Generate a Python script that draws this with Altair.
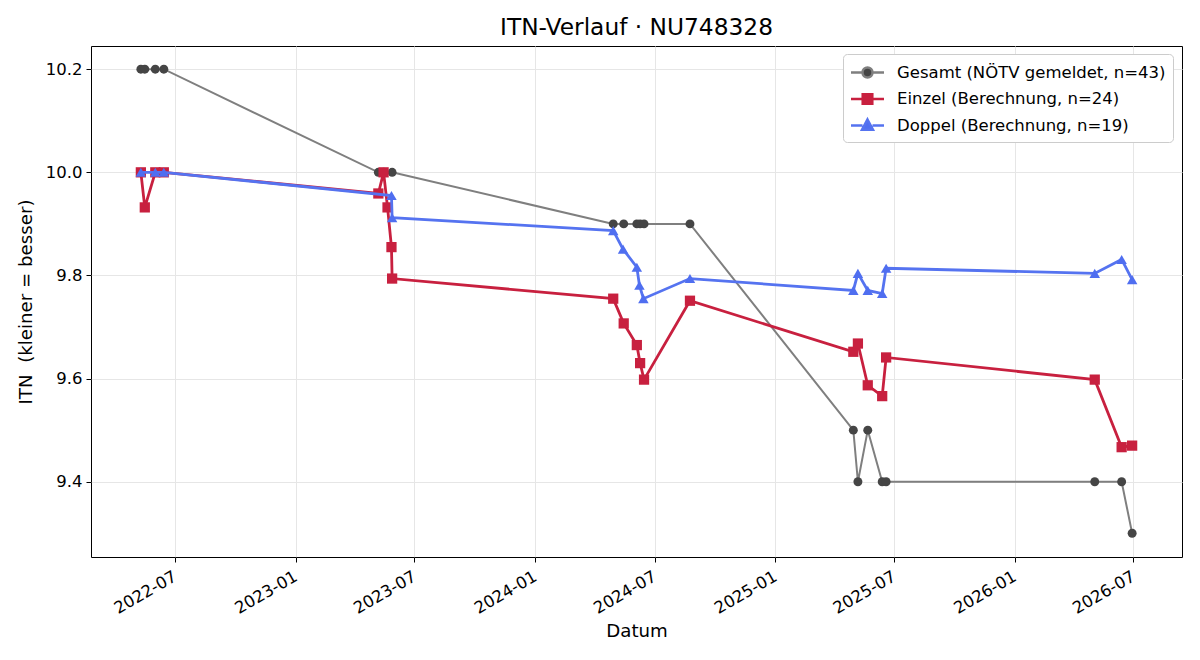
import altair as alt
import pandas as pd

series_names = ["Gesamt (NÖTV gemeldet, n=43)", "Einzel (Berechnung, n=24)", "Doppel (Berechnung, n=19)"]
line_colors = ["#7f7f7f", "#c8203f", "#5573f0"]
marker_colors = ["#454545", "#c8203f", "#4f6ef0"]
marker_shapes = ["circle", "square", "triangle-up"]
line_widths = [2.0, 2.8, 2.8]
marker_sizes = [80, 105, 110]

gesamt_dates = ["2022-05-10", "2022-05-16", "2022-06-01", "2022-06-14",
                "2023-05-07", "2023-05-15", "2023-05-28",
                "2024-04-29", "2024-05-15", "2024-06-04", "2024-06-09", "2024-06-15", "2024-08-24",
                "2025-04-30", "2025-05-07", "2025-05-22", "2025-06-13", "2025-06-19",
                "2026-05-03", "2026-06-13", "2026-06-29"]
gesamt_itn = [10.2, 10.2, 10.2, 10.2,
              10.0, 10.0, 10.0,
              9.9, 9.9, 9.9, 9.9, 9.9, 9.9,
              9.5, 9.4, 9.5, 9.4, 9.4,
              9.4, 9.4, 9.3]

einzel_dates = ["2022-05-10", "2022-05-16", "2022-06-01", "2022-06-14",
                "2023-05-07", "2023-05-15", "2023-05-21", "2023-05-27", "2023-05-28",
                "2024-04-29", "2024-05-15", "2024-06-04", "2024-06-09", "2024-06-15", "2024-08-24",
                "2025-04-30", "2025-05-07", "2025-05-22", "2025-06-13", "2025-06-19",
                "2026-05-03", "2026-06-13", "2026-06-29"]
einzel_itn = [10.0, 9.932, 10.0, 10.0,
              9.959, 10.0, 9.932, 9.855, 9.794,
              9.755, 9.707, 9.665, 9.630, 9.598, 9.751,
              9.652, 9.668, 9.587, 9.566, 9.641,
              9.598, 9.467, 9.470]

doppel_dates = ["2022-05-10", "2022-06-01", "2022-06-14",
                "2023-05-27", "2023-05-28",
                "2024-04-29", "2024-05-14", "2024-06-04", "2024-06-08", "2024-06-14", "2024-08-24",
                "2025-04-30", "2025-05-07", "2025-05-22", "2025-06-13", "2025-06-19",
                "2026-05-03", "2026-06-13", "2026-06-29"]
doppel_itn = [10.0, 10.0, 10.0,
              9.955, 9.912,
              9.887, 9.851, 9.816, 9.781, 9.755, 9.794,
              9.771, 9.804, 9.771, 9.765, 9.814,
              9.804, 9.831, 9.792]

x_tick_dates = [(2022, 7), (2023, 1), (2023, 7), (2024, 1), (2024, 7),
                (2025, 1), (2025, 7), (2026, 1), (2026, 7)]
y_ticks = [9.4, 9.6, 9.8, 10.0, 10.2]
x_domain = [(2022, 2, 23), (2026, 9, 13)]
y_domain = [9.254, 10.245]

all_dates = [gesamt_dates, einzel_dates, doppel_dates]
all_itn = [gesamt_itn, einzel_itn, doppel_itn]
rows = []
for name, ds, vs in zip(series_names, all_dates, all_itn):
    for d, v in zip(ds, vs):
        rows.append({"date": d, "itn": v, "series": name})
df = pd.DataFrame(rows)

FONT = "DejaVu Sans"

# legend symbol paths (line with marker), unit = sqrt(size)/2 px
legend_paths = [
    "M-1.65,0H-0.5M0.5,0H1.65M0.5,0A0.5,0.5 0 1,1 -0.5,0A0.5,0.5 0 1,1 0.5,0Z",
    "M-1.65,0H-0.48M0.48,0H1.65M-0.48,-0.48H0.48V0.48H-0.48Z",
    "M-1.65,0H-0.5M0.5,0H1.65M0,-0.6L0.55,0.42L-0.55,0.42Z",
]


def pick(values):
    expr = "'" + values[-1] + "'"
    for n, v in reversed(list(zip(series_names[:-1], values[:-1]))):
        expr = "datum.value === '" + n + "' ? '" + v + "' : " + expr
    return expr


legend = alt.Legend(
    title=None, orient="none", legendX=752, legendY=8,
    fillColor="white", strokeColor="#cccccc", cornerRadius=4, padding=7,
    labelFont=FONT, labelFontSize=16.5, labelColor="black", labelLimit=500,
    symbolSize=400, rowPadding=4.5, symbolOffset=6, labelOffset=18,
    symbolType={"expr": pick(legend_paths)},
    symbolFillColor={"expr": pick(marker_colors)},
    symbolStrokeWidth=2.5, symbolOpacity=1,
)

x_enc = alt.X(
    "date:T",
    title="Datum",
    scale=alt.Scale(type="utc", nice=False,
                    domain=[alt.DateTime(year=y, month=m, date=d, utc=True) for (y, m, d) in x_domain]),
    axis=alt.Axis(
        values=[alt.DateTime(year=y, month=m, date=1, utc=True) for (y, m) in x_tick_dates],
        labelExpr="utcFormat(datum.value, '%Y-%m')", labelAngle=-30, labelAlign="right",
        labelBaseline="top", labelPadding=6, labelOffset=-4, titlePadding=6,
    ),
)
y_enc = alt.Y(
    "itn:Q",
    title="ITN\u00a0\u00a0(kleiner = besser)",
    scale=alt.Scale(domain=y_domain, nice=False, zero=False),
    axis=alt.Axis(values=y_ticks, format=".1f", labelPadding=4, titlePadding=10),
)
color_enc = alt.Color("series:N", scale=alt.Scale(domain=series_names, range=line_colors), legend=legend)

layers = []
for i, name in enumerate(series_names):
    base = alt.Chart(df).transform_filter(alt.datum.series == name)
    layers.append(
        base.mark_line(strokeWidth=line_widths[i]).encode(x=x_enc, y=y_enc, color=color_enc, order="date:T")
    )
    layers.append(
        base.mark_point(filled=True, opacity=1, size=marker_sizes[i], shape=marker_shapes[i],
                        color=marker_colors[i], strokeWidth=0).encode(x=x_enc, y=y_enc)
    )

chart = alt.layer(*layers).properties(
    width=1091, height=511,
    title=alt.TitleParams("ITN-Verlauf · NU748328", font=FONT, fontSize=23.3, fontWeight="normal",
                          color="black", anchor="middle", offset=6),
    padding={"left": 91, "top": 46, "right": 18, "bottom": 103},
    autosize=alt.AutoSizeParams(type="none"),
    background="white",
).configure_view(
    stroke="black", strokeWidth=1
).configure_axis(
    labelFont=FONT, labelFontSize=16.5, labelColor="black",
    titleFont=FONT, titleFontSize=18.2, titleFontWeight="normal", titleColor="black",
    domain=False, tickColor="black", tickSize=5, tickWidth=1,
    grid=True, gridColor="#e6e6e6", gridWidth=1,
)

chart.save("out.html", embed_options={"renderer": "svg", "actions": False})
